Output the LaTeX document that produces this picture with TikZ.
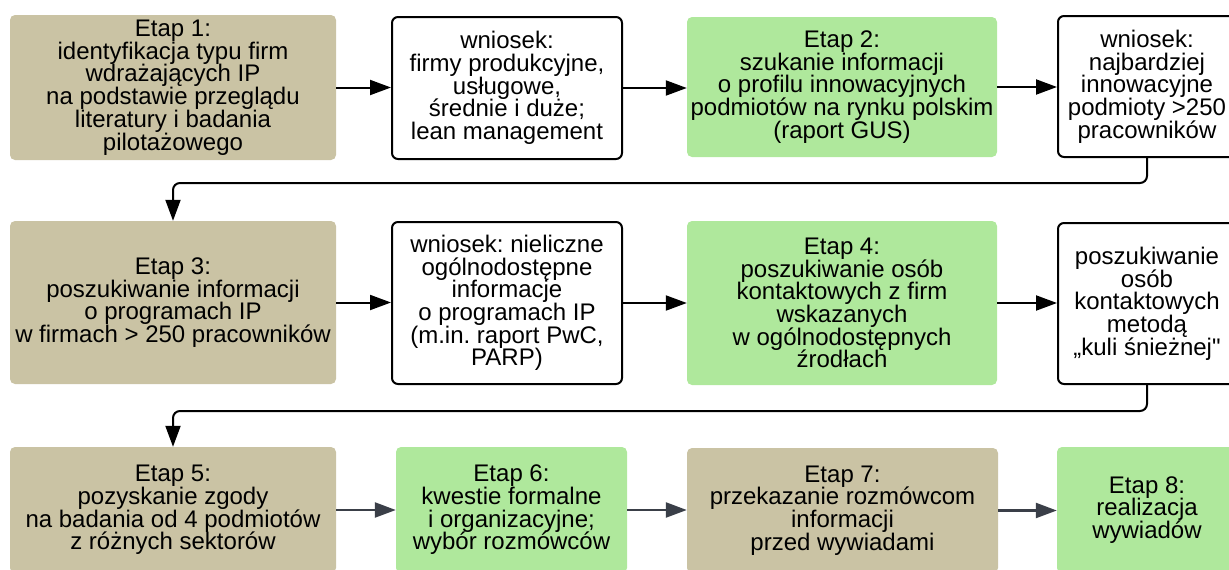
\documentclass[tikz,border=0pt]{standalone}
\usepackage{fontspec}
\setmainfont{Liberation Sans}
% same face without the TeX quote mapping, for a straight double quote
\newfontfamily\straightq{Liberation Sans}
\usetikzlibrary{arrows.meta}
\definecolor{tan}{RGB}{202,195,164}
\definecolor{leaf}{RGB}{175,232,156}
\definecolor{slate}{RGB}{58,63,72}
\frenchspacing
\begin{document}
\begin{tikzpicture}[x=1pt,y=-1pt,
  every node/.style={font=\fontsize{24}{22.7}\selectfont, align=center, inner sep=0pt},
  stage/.style={rectangle, rounded corners=5pt, fill=tan},
  stagegreen/.style={rectangle, rounded corners=5pt, fill=leaf},
  note/.style={rectangle, rounded corners=6pt, draw=black, line width=2pt, fill=white},
  flow/.style={line width=2pt, -{Triangle[length=21pt,width=15pt]}},
  flowgray/.style={line width=2.4pt, draw=slate, -{Triangle[length=21pt,width=15pt]}, slate},
  wrap/.style={line width=2pt, rounded corners=7pt, -{Triangle[length=21pt,width=15pt]}}]
\useasboundingbox (0,0) rectangle (1229,570);
\clip (0,0) rectangle (1229,570);

% row 1
\node[stage, minimum width=326pt, minimum height=145pt] (e1) at (173,87.5)
  {Etap 1:\\identyfikacja typu firm\\wdrażających IP\\na podstawie przeglądu\\literatury i badania\\pilotażowego};
\node[note, minimum width=230pt, minimum height=142pt] (w1) at (507,88)
  {wniosek:\\firmy produkcyjne,\\usługowe,\\średnie i duże;\\lean management};
\node[stagegreen, minimum width=310pt, minimum height=140pt] (e2) at (842,87)
  {Etap 2:\\szukanie informacji\\o profilu innowacyjnych\\podmiotów na rynku polskim\\(raport GUS)};
\node[note, minimum width=178pt, minimum height=141pt] (w2) at (1147,86.5)
  {wniosek:\\najbardziej\\innowacyjne\\podmioty >250\\pracowników};

% row 2
\node[stage, minimum width=326pt, minimum height=163pt] (e3) at (173,302.5)
  {Etap 3:\\poszukiwanie informacji\\o programach IP\\w firmach > 250 pracowników};
\node[note, minimum width=230pt, minimum height=162pt] (w3) at (507,303)
  {wniosek: nieliczne\\ogólnodostępne\\informacje\\o programach IP\\(m.in. raport PwC,\\PARP)};
\node[stagegreen, minimum width=310pt, minimum height=164pt] (e4) at (842,303)
  {Etap 4:\\poszukiwanie osób\\kontaktowych z firm\\wskazanych\\w ogólnodostępnych\\źrodłach};
\node[note, minimum width=178pt, minimum height=161pt] (w4) at (1147,303.5)
  {poszukiwanie\\osób\\kontaktowych\\metodą\\„kuli śnieżnej{\straightq"}};

% row 3
\node[stage, minimum width=326pt, minimum height=126pt] (e5) at (173,510)
  {Etap 5:\\pozyskanie zgody\\na badania od 4 podmiotów\\z różnych sektorów};
\node[stagegreen, minimum width=231pt, minimum height=126pt] (e6) at (511.5,510)
  {Etap 6:\\kwestie formalne\\i organizacyjne;\\wybór rozmówców};
\node[stage, minimum width=311pt, minimum height=125pt] (e7) at (842.5,510.5)
  {Etap 7:\\przekazanie rozmówcom\\informacji\\przed wywiadami};
\node[stagegreen, minimum width=180pt, minimum height=126pt] (e8) at (1147,510)
  {Etap 8:\\realizacja\\wywiadów};

% connectors, row 1
\draw[flow] (e1.east) -- (e1.east -| w1.west);
\draw[flow] (w1.east) -- (w1.east -| e2.west);
\draw[flow] (e2.east) -- (e2.east -| w2.west);
\draw[wrap] (w2.south) -- ++(0,25) -| (e3.north);

% connectors, row 2
\draw[flow] (e3.east) -- (e3.east -| w3.west);
\draw[flow] (w3.east) -- (w3.east -| e4.west);
\draw[flow] (e4.east) -- (e4.east -| w4.west);
\draw[wrap] (w4.south) -- ++(0,26) -| (e5.north);

% connectors, row 3
\draw[flowgray] (e5.east) -- (e5.east -| e6.west);
\draw[flowgray] (e6.east) -- (e6.east -| e7.west);
\draw[flowgray] (e7.east) -- (e7.east -| e8.west);
\end{tikzpicture}
\end{document}
